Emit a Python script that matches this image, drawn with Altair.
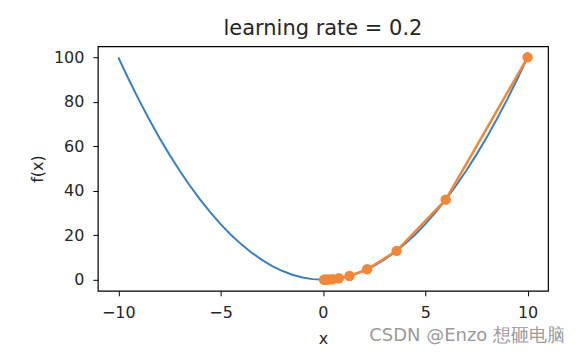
import altair as alt
import pandas as pd

curve_x = [-10, -9.5, -9, -8.5, -8, -7.5, -7, -6.5, -6, -5.5, -5, -4.5, -4, -3.5, -3, -2.5, -2, -1.5, -1, -0.5,
           0, 0.5, 1, 1.5, 2, 2.5, 3, 3.5, 4, 4.5, 5, 5.5, 6, 6.5, 7, 7.5, 8, 8.5, 9, 9.5, 10]
curve_y = [100, 90.25, 81, 72.25, 64, 56.25, 49, 42.25, 36, 30.25, 25, 20.25, 16, 12.25, 9, 6.25, 4, 2.25, 1, 0.25,
           0, 0.25, 1, 2.25, 4, 6.25, 9, 12.25, 16, 20.25, 25, 30.25, 36, 42.25, 49, 56.25, 64, 72.25, 81, 90.25, 100]

# gradient descent trajectory, learning rate 0.2
step_x = [10, 6, 3.6, 2.16, 1.296, 0.778, 0.467, 0.28, 0.168, 0.101, 0.06]
step_y = [100, 36, 12.96, 4.67, 1.68, 0.605, 0.218, 0.078, 0.028, 0.010, 0.004]

title_text = "learning rate = 0.2"
x_label = "x"
y_label = "f(x)"
watermark = "CSDN @Enzo 想砸电脑"

curve_df = pd.DataFrame({"x": curve_x, "y": curve_y})
step_df = pd.DataFrame({"x": step_x, "y": step_y, "i": list(range(len(step_x)))})

font = "DejaVu Sans"
xscale = alt.Scale(domain=[-11, 11], nice=False, zero=False)
yscale = alt.Scale(domain=[-5, 105], nice=False, zero=False)
xaxis = alt.Axis(values=[-10, -5, 0, 5, 10], title=x_label, grid=False, domain=False,
                 tickColor="black", tickSize=5, labelFont=font, labelFontSize=16,
                 labelColor="#262626", titleFont=font, titleFontSize=16, titleFontWeight="normal",
                 titleColor="#262626", labelPadding=9, titlePadding=10)
yaxis = alt.Axis(values=[0, 20, 40, 60, 80, 100], title=y_label, grid=False, domain=False,
                 tickColor="black", tickSize=5, labelFont=font, labelFontSize=16,
                 labelColor="#262626", titleFont=font, titleFontSize=16, titleFontWeight="normal",
                 titleColor="#262626", labelPadding=9, titlePadding=8)

curve = alt.Chart(curve_df).mark_line(color="#3a7fc0", strokeWidth=2).encode(
    x=alt.X("x:Q", scale=xscale, axis=xaxis),
    y=alt.Y("y:Q", scale=yscale, axis=yaxis),
)
path = alt.Chart(step_df).mark_line(color="#f0873a", strokeWidth=2.5).encode(
    x="x:Q", y="y:Q", order="i:Q"
)
dots = alt.Chart(step_df).mark_circle(color="#f0873a", size=110, opacity=1).encode(
    x="x:Q", y="y:Q"
)
wm = alt.Chart(pd.DataFrame({"t": [watermark]})).mark_text(
    align="right", baseline="middle", font=font, fontSize=18, color="#9a9a9a"
).encode(x=alt.value(468), y=alt.value(290), text="t:N")

chart = alt.layer(curve, path, dots, wm).properties(
    width=451, height=245,
    background="white",
    title=alt.Title(title_text, font=font, fontSize=21, fontWeight="normal", color="#262626", offset=7),
    autosize=alt.AutoSizeParams(type="none"),
    padding={"left": 90, "top": 38, "right": 24, "bottom": 58},
).configure_view(stroke="black", strokeWidth=1.2)

chart.save("out.html", embed_options={"renderer": "svg", "actions": False})
